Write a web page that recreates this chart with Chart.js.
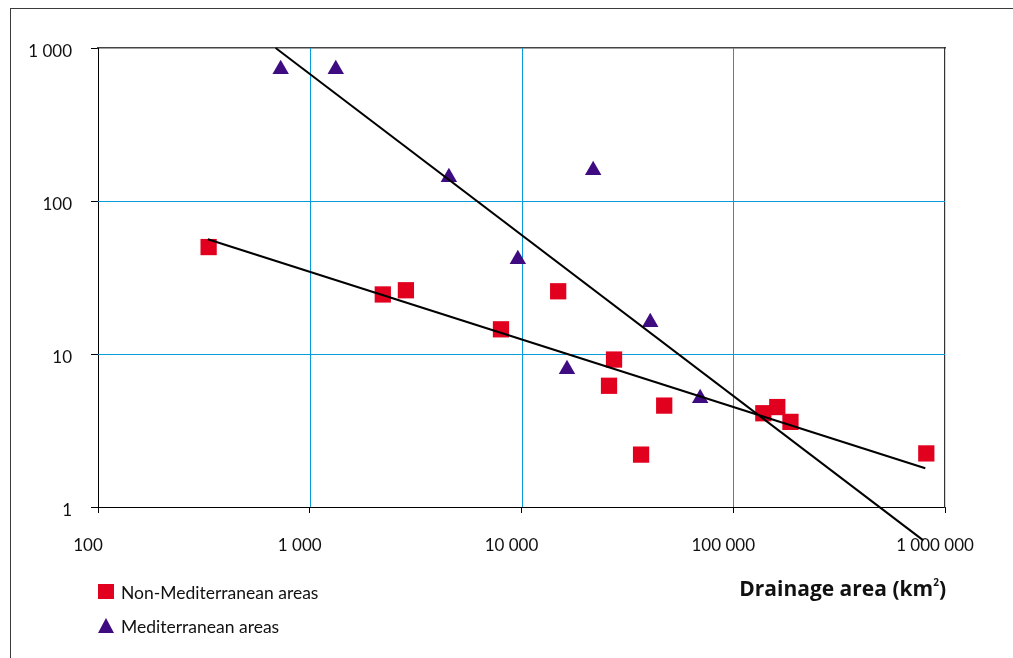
<!DOCTYPE html>
<html>
<head>
<meta charset="utf-8">
<script src="https://cdn.jsdelivr.net/npm/chart.js@4.4.1/dist/chart.umd.min.js"></script>
<style>
  body { margin: 0; background: #fff; }
  #wrap { position: relative; width: 1013px; height: 658px; overflow: hidden; font-family: Lato, "Noto Sans", sans-serif; }
  #frame { position: absolute; left: 10px; top: 8px; right: -5px; bottom: -5px; border-top: 1.5px solid #3a3a3a; border-left: 1.5px solid #3a3a3a; }
  .lg-text { position: absolute; left: 121px; font-size: 17.5px; color: #111; line-height: 20px; white-space: nowrap; }
  #sq { position: absolute; left: 98px; top: 584px; width: 16px; height: 15px; background: #e2001f; }
  #tri { position: absolute; left: 98px; top: 618px; width: 0; height: 0; border-left: 8px solid transparent; border-right: 8px solid transparent; border-bottom: 15px solid #3e0c80; }
  #xtitle { position: absolute; right: 67px; top: 574px; font-family: "Open Sans", Lato, sans-serif; font-size: 21px; font-weight: bold; color: #111; line-height: 28px; white-space: nowrap; }
  #xtitle sup { font-size: 10px; vertical-align: 10px; line-height: 0; }
  canvas { position: absolute; left: 0; top: 0; }
</style>
</head>
<body>
<div id="wrap">
  <canvas id="chart" width="1013" height="658"></canvas>
  <div id="frame"></div>
  <div id="sq"></div>
  <div class="lg-text" style="top:583px">Non-Mediterranean areas</div>
  <div id="tri"></div>
  <div class="lg-text" style="top:617px">Mediterranean areas</div>
  <div id="xtitle">Drainage area (km<sup>2</sup>)</div>
</div>
<script>
// drainage area (km2) and values
let nonMedArea  = [333, 2213, 2845, 8000, 14900, 27350, 25900, 47200, 36700, 138700, 161400, 186300, 816000];
let nonMedValue = [50, 24.5, 26.1, 14.5, 25.7, 9.2, 6.2, 4.6, 2.2, 4.1, 4.5, 3.6, 2.24];

let medArea  = [729, 1327, 4540, 9610, 21800, 16400, 40550, 69800];
let medValue = [727, 727, 143, 41.6, 159, 7.94, 16.1, 5.13];

// trend lines (end points)
let nonMedTrendArea  = [330, 807000];
let nonMedTrendValue = [56.2, 1.79];
let medTrendArea  = [690, 790000];
let medTrendValue = [1000, 0.605];

let xTicks = [100, 1000, 10000, 100000, 1000000];
let yTicks = [1, 10, 100, 1000];

let gridBlue = '#0a9bdb';
let red = '#e2001f';
let purple = '#3e0c80';

toPoints = (xs, ys) => {
    return xs.map((x, i) => ({x: x, y: ys[i]}));
}

formatNumber = (v) => {
    return String(Math.round(v)).replace(/\B(?=(\d{3})+(?!\d))/g, ' ');
}

// blue grid lines at the inner decades
let blueGrid = {
    id: 'blueGrid',
    beforeDatasetsDraw: (chart) => {
        let c = chart.ctx;
        let area = chart.chartArea;
        let xs = chart.scales.x;
        let ys = chart.scales.y;
        c.save();
        c.strokeStyle = gridBlue;
        c.lineWidth = 1;
        c.beginPath();
        xTicks.slice(1, -1).forEach(v => {
            let px = Math.round(xs.getPixelForValue(v)) + 0.5;
            c.moveTo(px, area.top);
            c.lineTo(px, area.bottom);
        });
        yTicks.slice(1, -1).forEach(v => {
            let py = Math.round(ys.getPixelForValue(v)) + 0.5;
            c.moveTo(area.left, py);
            c.lineTo(area.right, py);
        });
        c.stroke();
        c.restore();
    }
};

let ctx = document.getElementById('chart');

let cfg = {
  type: 'scatter',
  data: {
    datasets: [{
        label: 'Non-Mediterranean areas',
        data: toPoints(nonMedArea, nonMedValue),
        pointStyle: 'rect',
        pointRadius: 11.5,
        backgroundColor: red,
        borderWidth: 0,
        order: 2,
        clip: false
    },
    {
        label: 'Mediterranean areas',
        data: toPoints(medArea, medValue),
        pointStyle: 'triangle',
        pointRadius: 9.5,
        backgroundColor: purple,
        borderWidth: 0,
        order: 2,
        clip: false
    },
    {
        type: 'line',
        label: 'trend1',
        data: toPoints(nonMedTrendArea, nonMedTrendValue),
        borderColor: '#000',
        borderWidth: 2,
        pointRadius: 0,
        order: 1,
        clip: false
    },
    {
        type: 'line',
        label: 'trend2',
        data: toPoints(medTrendArea, medTrendValue),
        borderColor: '#000',
        borderWidth: 2,
        pointRadius: 0,
        order: 1,
        clip: false
    }]
  },
  options: {
    responsive: false,
    animation: false,
    layout: { padding: { left: 0, right: 68, top: 48, bottom: 0 } },
    plugins: { legend: { display: false }, tooltip: { enabled: false } },
    scales: {
        x: {
            type: 'logarithmic',
            min: 100,
            max: 1000000,
            afterBuildTicks: (scale) => { scale.ticks = xTicks.map(v => ({value: v})); },
            afterFit: (scale) => { scale.height = 151; },
            grid: {
                drawOnChartArea: false,
                tickLength: 6,
                tickColor: '#000'
            },
            border: { color: '#000', width: 1 },
            ticks: {
                callback: (v) => formatNumber(v),
                font: { family: 'Lato', size: 17 },
                color: '#111',
                padding: 22,
                labelOffset: -10,
                maxRotation: 0,
                autoSkip: false
            }
        },
        // top and right frame of the plot area
        x2: {
            type: 'logarithmic',
            position: 'top',
            min: 100,
            max: 1000000,
            afterFit: (scale) => { scale.height = 0; },
            grid: { display: false, drawTicks: false },
            ticks: { display: false },
            border: { display: true, color: '#444', width: 1.5 }
        },
        y: {
            type: 'logarithmic',
            min: 1,
            max: 1000,
            afterBuildTicks: (scale) => { scale.ticks = yTicks.map(v => ({value: v})); },
            afterFit: (scale) => { scale.width = 98; },
            grid: {
                drawOnChartArea: false,
                tickLength: 7,
                tickColor: '#000'
            },
            border: { color: '#000', width: 1 },
            ticks: {
                callback: (v) => formatNumber(v),
                font: { family: 'Lato', size: 17 },
                color: '#111',
                padding: 19,
                labelOffset: 4,
                autoSkip: false
            }
        },
        y2: {
            type: 'logarithmic',
            position: 'right',
            min: 1,
            max: 1000,
            afterFit: (scale) => { scale.width = 0; },
            grid: { display: false, drawTicks: false },
            ticks: { display: false },
            border: { display: true, color: '#333', width: 1.2 }
        }
    }
  },
  plugins: [blueGrid]
};

let chart = new Chart(ctx, cfg);
</script>
</body>
</html>
